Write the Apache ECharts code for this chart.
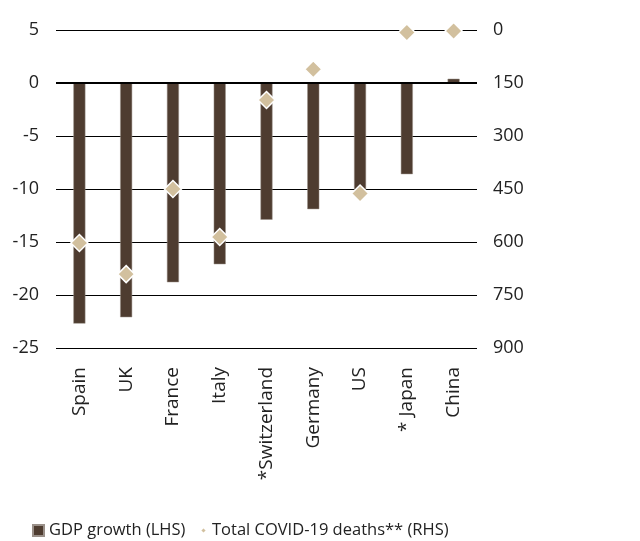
<!DOCTYPE html>
<html>
<head>
<meta charset="utf-8">
<script src="https://cdn.jsdelivr.net/npm/echarts@6/dist/echarts.min.js"></script>
<style>
  html, body { margin: 0; padding: 0; background: #fff; }
  #chart { width: 640px; height: 541px; }
</style>
</head>
<body>
<div id="chart"></div>
<script>
// countries along the x axis
const countries = ['Spain', 'UK', 'France', 'Italy', '*Switzerland', 'Germany', 'US', '* Japan', 'China']
// GDP growth, % (left axis)
const gdpGrowth = [-22.7, -22.1, -18.8, -17.1, -12.9, -11.9, -10.1, -8.6, 0.4]
// total covid-19 deaths per million (right axis, inverted)
const covidDeaths = [603, 691, 450, 586, 198, 111, 463, 7, 3]

const barColor = '#4e3c30'
const diamondColor = '#d2c09e'
const textColor = '#222'
const font = 'Open Sans'

const chart = echarts.init(document.getElementById('chart'))

chart.setOption({
  animation: false,
  textStyle: { fontFamily: font },
  grid: {
    left: 56,
    right: 163,
    top: 30,
    bottom: 193
  },
  legend: [
    {
      left: 27,
      top: 517,
      itemWidth: 11,
      itemHeight: 11,
      textStyle: { fontSize: 16.5, color: textColor, fontFamily: font },
      data: [{ name: 'GDP growth (LHS)', icon: 'rect' }]
    },
    {
      left: 194,
      top: 517,
      itemWidth: 7,
      itemHeight: 7,
      textStyle: { fontSize: 16.5, color: textColor, fontFamily: font },
      data: [{ name: 'Total COVID-19 deaths** (RHS)', icon: 'diamond' }]
    }
  ],
  xAxis: {
    type: 'category',
    data: countries,
    axisLine: { show: false },
    axisTick: { show: false },
    axisLabel: {
      rotate: 90,
      margin: 19,
      fontSize: 19,
      color: textColor,
      fontFamily: font
    }
  },
  yAxis: [
    {
      type: 'value',
      min: -25,
      max: 5,
      interval: 5,
      axisLine: { show: false },
      axisTick: { show: false },
      axisLabel: { fontSize: 18, color: textColor, margin: 17, fontFamily: font },
      splitLine: { lineStyle: { color: '#000', width: 1 } }
    },
    {
      type: 'value',
      inverse: true,
      min: 0,
      max: 900,
      interval: 150,
      axisLine: { show: false },
      axisTick: { show: false },
      axisLabel: { fontSize: 18, color: textColor, margin: 16, fontFamily: font },
      splitLine: { show: false }
    }
  ],
  series: [
    {
      name: 'GDP growth (LHS)',
      type: 'bar',
      yAxisIndex: 0,
      barWidth: 12,
      data: gdpGrowth,
      itemStyle: { color: barColor, borderColor: '#9a9089', borderWidth: 0.5 },
      markLine: {
        silent: true,
        symbol: 'none',
        label: { show: false },
        lineStyle: { color: '#000', width: 2, type: 'solid' },
        data: [{ yAxis: 0 }]
      }
    },
    {
      name: 'Total COVID-19 deaths** (RHS)',
      type: 'scatter',
      yAxisIndex: 1,
      symbol: 'diamond',
      symbolSize: 17,
      data: covidDeaths,
      itemStyle: { color: diamondColor, borderColor: '#fff', borderWidth: 1.5, opacity: 1 },
      z: 5
    }
  ]
})
</script>
</body>
</html>
